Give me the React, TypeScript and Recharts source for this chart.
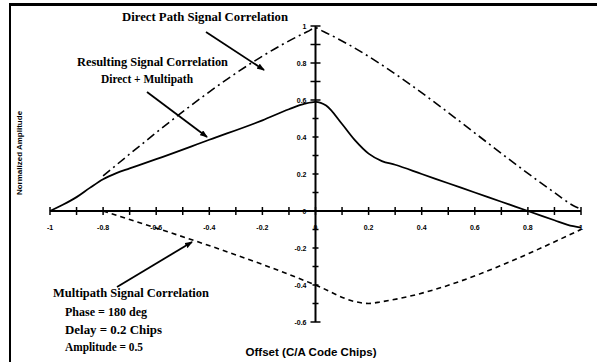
import React from 'react';
import { ComposedChart, Line, Scatter, XAxis, YAxis, ReferenceLine } from 'recharts';

// offsets in C/A code chips, amplitudes normalized
const directX = [-0.8, -0.03, 0, 0.03, 0.9, 0.97, 1];
const directY = [0.19, 0.97, 0.99, 0.97, 0.1, 0.03, 0.01];

const resultX = [-1, -0.95, -0.9, -0.85, -0.8, -0.75, -0.7, -0.6, -0.4, -0.2, -0.1, -0.04, 0, 0.04, 0.1, 0.15, 0.2, 0.25, 0.3, 0.4, 0.5, 0.6, 0.7, 0.8, 0.9, 0.95, 1];
const resultY = [0, 0.035, 0.075, 0.125, 0.172, 0.205, 0.23, 0.28, 0.385, 0.49, 0.55, 0.58, 0.59, 0.57, 0.47, 0.38, 0.31, 0.27, 0.25, 0.2, 0.15, 0.1, 0.05, 0.0, -0.05, -0.075, -0.09];

const multiLeadX = [-1, -0.8];
const multiLeadY = [0, 0];
const multiX = [-0.8, 0, 0.15, 0.2, 0.25, 1];
const multiY = [0, -0.4, -0.49, -0.5, -0.49, -0.1];

const xMinor = [-1, -0.9, -0.8, -0.7, -0.6, -0.5, -0.4, -0.3, -0.2, -0.1, 0, 0.1, 0.2, 0.3, 0.4, 0.5, 0.6, 0.7, 0.8, 0.9, 1];
const yMinor = [-0.6, -0.5, -0.4, -0.3, -0.2, -0.1, 0.1, 0.2, 0.3, 0.4, 0.5, 0.6, 0.7, 0.8, 0.9, 1];
const xLabels = ['-1', '-0.8', '-0.6', '-0.4', '-0.2', '0', '0.2', '0.4', '0.6', '0.8', '1'];
const xLabelVals = [-1, -0.8, -0.6, -0.4, -0.2, 0, 0.2, 0.4, 0.6, 0.8, 1];
const yLabels = ['-0.6', '-0.4', '-0.2', '0', '0.2', '0.4', '0.6', '0.8', '1'];
const yLabelVals = [-0.6, -0.4, -0.2, 0, 0.2, 0.4, 0.6, 0.8, 1];

const zip = (xs: number[], ys: number[]) => xs.map((x, i) => ({ x, y: ys[i] }));
const direct = zip(directX, directY);
const result = zip(resultX, resultY);
const multiLead = zip(multiLeadX, multiLeadY);
const multi = zip(multiX, multiY);
const xTicks = xMinor.map((x) => ({ x, y: 0 }));
const yTicks = yMinor.map((y) => ({ x: 0, y }));
const xLab = xLabelVals.map((x, i) => ({ x, y: 0, t: xLabels[i] }));
const yLab = yLabelVals.map((y, i) => ({ x: 0, y, t: yLabels[i] }));

const serif = { fontFamily: '"Liberation Serif", serif', fontWeight: 700, fontSize: 12 };
const sans = { fontFamily: '"Liberation Sans", Arial, sans-serif', fontWeight: 700 };

const Note = ({ x, y, w, children }: any) => (
  <text x={x} y={y} style={serif} textLength={w} lengthAdjust="spacingAndGlyphs">{children}</text>
);

export default function App() {
  return (
    <div style={{ position: 'absolute', left: 0, top: 0, width: 597, height: 362, background: '#fff' }}>
      <div style={{ position: 'absolute', left: 9, top: 3, width: 588, height: 359, borderTop: '3px solid #000', borderLeft: '2px solid #000' }} />
      <ComposedChart width={597} height={362} margin={{ top: 26, right: 16, bottom: 40, left: 50 }}>
        <XAxis type="number" dataKey="x" domain={[-1, 1]} hide />
        <YAxis type="number" dataKey="y" domain={[-0.6, 1]} hide />
        <ReferenceLine y={0} stroke="#000" strokeWidth={2} />
        <ReferenceLine x={0} stroke="#000" strokeWidth={2} />
        <Scatter data={xTicks} isAnimationActive={false} shape={(p: any) => (
          <line x1={p.cx} x2={p.cx} y1={p.cy - 4} y2={p.cy + 4} stroke="#000" strokeWidth={1.5} />
        )} />
        <Scatter data={yTicks} isAnimationActive={false} shape={(p: any) => (
          <line x1={p.cx - (Math.abs(p.payload.y) > 0.55 ? 5 : 3)} x2={p.cx + (Math.abs(p.payload.y) > 0.55 ? 5 : 3)} y1={p.cy} y2={p.cy} stroke="#000" strokeWidth={1.5} />
        )} />
        <Scatter data={xLab} isAnimationActive={false} shape={(p: any) => (
          <text x={p.cx} y={p.cy + 19} textAnchor="middle" fontSize={7} style={sans}>{p.payload.t}</text>
        )} />
        <Scatter data={yLab} isAnimationActive={false} shape={(p: any) => (
          <text x={p.cx - 9} y={p.cy + 3} textAnchor="end" fontSize={7} style={sans}>{p.payload.t}</text>
        )} />
        <Line data={direct} dataKey="y" type="monotone" stroke="#000" strokeWidth={1.6} strokeDasharray="9 4 2 4" dot={false} isAnimationActive={false} />
        <Line data={multiLead} dataKey="y" type="linear" stroke="#000" strokeWidth={1.6} strokeDasharray="1.5 3" dot={false} isAnimationActive={false} />
        <Line data={multi} dataKey="y" type="monotone" stroke="#000" strokeWidth={1.6} strokeDasharray="5 4" dot={false} isAnimationActive={false} />
        <Line data={result} dataKey="y" type="monotone" stroke="#000" strokeWidth={1.8} dot={false} isAnimationActive={false} />
      </ComposedChart>
      <svg width={597} height={362} style={{ position: 'absolute', left: 0, top: 0, pointerEvents: 'none' }}>
        <defs>
          <marker id="ah" markerWidth="8" markerHeight="6" refX="7" refY="3" orient="auto" markerUnits="userSpaceOnUse">
            <path d="M0,0 L8,3 L0,6 Z" fill="#000" />
          </marker>
        </defs>
        <Note x={122} y={21} w={166}>Direct Path Signal Correlation</Note>
        <line x1={206} y1={32} x2={264} y2={70} stroke="#000" strokeWidth={1.8} markerEnd="url(#ah)" />
        <Note x={77} y={66} w={151}>Resulting Signal Correlation</Note>
        <Note x={101} y={83} w={92}>Direct + Multipath</Note>
        <line x1={147} y1={92} x2={207} y2={137} stroke="#000" strokeWidth={1.8} markerEnd="url(#ah)" />
        <Note x={53} y={297} w={156}>Multipath Signal Correlation</Note>
        <Note x={65} y={316} w={82}>Phase = 180 deg</Note>
        <Note x={65} y={334} w={97}>Delay = 0.2 Chips</Note>
        <Note x={65} y={351} w={78}>Amplitude = 0.5</Note>
        <line x1={117} y1={287} x2={192} y2={242} stroke="#000" strokeWidth={1.8} markerEnd="url(#ah)" />
        <text x={311} y={356} textAnchor="middle" fontSize={10} style={sans} textLength={131} lengthAdjust="spacingAndGlyphs">Offset (C/A Code Chips)</text>
        <text x={22} y={153} textAnchor="middle" fontSize={8} style={sans} transform="rotate(-90 22 153)">Normalized Amplitude</text>
      </svg>
    </div>
  );
}
